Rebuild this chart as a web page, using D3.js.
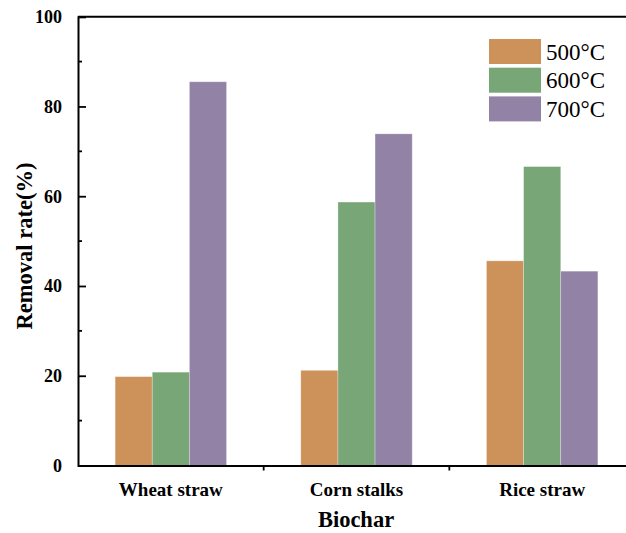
<!DOCTYPE html>
<html>
<head>
<meta charset="utf-8">
<script src="https://cdn.jsdelivr.net/npm/d3@7/dist/d3.min.js"></script>
<style>
html,body{margin:0;padding:0;background:#fff;}
svg{display:block;}
</style>
</head>
<body>
<svg id="chart" width="626" height="533"></svg>
<script>
const categories = ["Wheat straw", "Corn stalks", "Rice straw"];
const seriesNames = ["500°C", "600°C", "700°C"];
const values500 = [19.8, 21.2, 45.6];
const values600 = [20.8, 58.7, 66.6];
const values700 = [85.5, 73.9, 43.3];
const yTicks = [0, 20, 40, 60, 80, 100];
const colors = ["#CD915A", "#78A677", "#9182A6"];

const seriesValues = [values500, values600, values700];
const svg = d3.select("#chart");
const mLeft = 78, mRight = 635, mTop = 16.7, mBottom = 465.5;
const FONT = "'Liberation Serif', 'Times New Roman', serif";

const x0 = d3.scaleBand().domain(categories).range([mLeft, mRight]).padding(0);
const step = x0.bandwidth();
const x1 = d3.scaleBand().domain(seriesNames).range([0.2 * step, 0.8 * step]).padding(0);
const y = d3.scaleLinear().domain([0, 100]).range([mBottom, mTop]);

// bars
const groups = svg.append("g").selectAll("g")
  .data(categories).join("g")
  .attr("transform", d => `translate(${x0(d)},0)`);
groups.selectAll("rect")
  .data((c, ci) => seriesNames.map((s, si) => ({s, si, v: seriesValues[si][ci]})))
  .join("rect")
  .attr("x", d => x1(d.s))
  .attr("width", x1.bandwidth())
  .attr("y", d => y(d.v))
  .attr("height", d => y(0) - y(d.v))
  .attr("fill", d => colors[d.si])
  .attr("stroke", "#fff").attr("stroke-opacity", 0.35).attr("stroke-width", 0.8);

// frame top line
svg.append("line").attr("x1", mLeft).attr("x2", 626).attr("y1", mTop).attr("y2", mTop)
  .attr("stroke", "#000").attr("stroke-width", 2);

// y axis
const yAxis = svg.append("g").attr("transform", `translate(${mLeft},0)`)
  .call(d3.axisLeft(y).tickValues(yTicks).tickSize(-8).tickPadding(16).tickFormat(d3.format("d")));
yAxis.attr("font-family", FONT);
yAxis.select(".domain").attr("stroke-width", 2);
yAxis.selectAll(".tick line").attr("stroke-width", 1.8);
yAxis.selectAll(".tick text").attr("font-size", 18).attr("font-weight", "bold")
  .attr("fill", "#000").attr("dy", "0.33em");
// minor ticks
const minor = d3.range(10, 100, 20);
svg.append("g").selectAll("line").data(minor).join("line")
  .attr("x1", mLeft).attr("x2", mLeft + 4).attr("y1", d => y(d)).attr("y2", d => y(d))
  .attr("stroke", "#000").attr("stroke-width", 1.8);

// x axis
const xAxis = svg.append("g").attr("transform", `translate(0,${mBottom})`)
  .call(d3.axisBottom(x0).tickSize(0).tickPadding(17));
xAxis.attr("font-family", FONT);
xAxis.select(".domain").attr("stroke-width", 2);
xAxis.selectAll(".tick text").attr("font-size", 19).attr("font-weight", "bold")
  .attr("fill", "#000");
// boundary ticks between categories
svg.append("g").selectAll("line").data(categories.slice(1)).join("line")
  .attr("x1", d => x0(d)).attr("x2", d => x0(d))
  .attr("y1", mBottom).attr("y2", mBottom + 5)
  .attr("stroke", "#000").attr("stroke-width", 1.8);

// axis titles
svg.append("text").attr("x", 356).attr("y", 527).attr("text-anchor", "middle")
  .attr("font-family", FONT).attr("font-size", 22.5).attr("font-weight", "bold").text("Biochar");
svg.append("text").attr("transform", "translate(32,246) rotate(-90)").attr("text-anchor", "middle")
  .attr("font-family", FONT).attr("font-size", 22.5).attr("font-weight", "bold").text("Removal rate(%)");

// legend
const lg = svg.append("g").attr("transform", "translate(489,39)");
const items = lg.selectAll("g").data(seriesNames).join("g")
  .attr("transform", (d, i) => `translate(0,${i * 28.7})`);
items.append("rect").attr("width", 52).attr("height", 25).attr("fill", (d, i) => colors[i]);
items.append("text").attr("x", 57).attr("y", 20.5).attr("font-family", FONT).attr("font-size", 23).text(d => d);
</script>
</body>
</html>
